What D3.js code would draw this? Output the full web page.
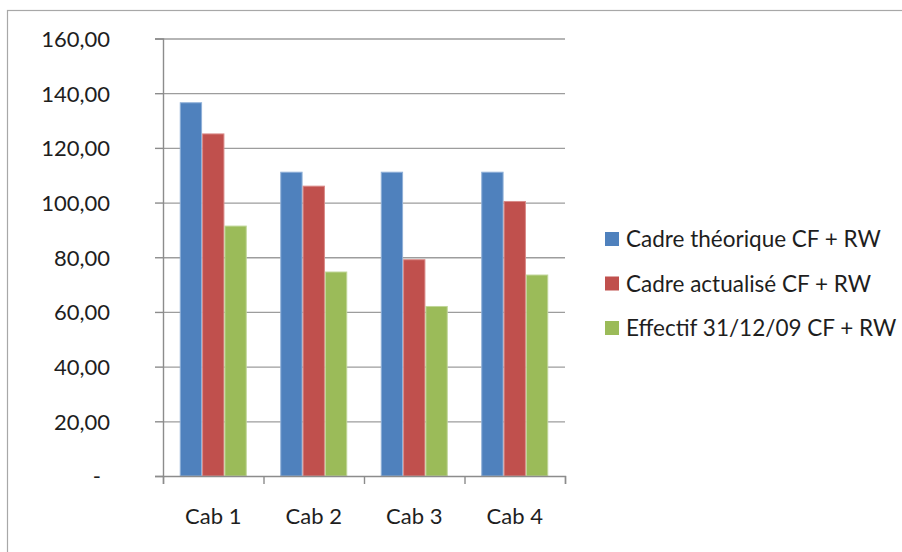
<!DOCTYPE html>
<html>
<head>
<meta charset="utf-8">
<script src="https://cdn.jsdelivr.net/npm/d3@7/dist/d3.min.js"></script>
<style>
  html, body { margin: 0; padding: 0; background: #fff; }
  svg { display: block; }
  text { font-family: Lato, "Open Sans", sans-serif; fill: #1e1e1e; }
</style>
</head>
<body>
<svg id="chart" width="902" height="552"></svg>
<script>
// Staffing per cabinet, three series
const categories = ["Cab 1", "Cab 2", "Cab 3", "Cab 4"];
const seriesNames = ["Cadre théorique CF + RW", "Cadre actualisé CF + RW", "Effectif 31/12/09 CF + RW"];
const cadreTheorique = [136.5, 111.1, 111.1, 111.1];
const cadreActualise = [125.1, 106.0, 79.1, 100.4];
const effectif = [91.4, 74.6, 62.0, 73.5];
const yTicks = [0, 20, 40, 60, 80, 100, 120, 140, 160];
const colors = ["#4F81BD", "#C0504D", "#9BBB59"];
const edgeColors = ["#8fb0d8", "#d98a88", "#c0d698"];

const seriesValues = [cadreTheorique, cadreActualise, effectif];
const rows = categories.map((c, i) => ({
  cat: c,
  vals: seriesValues.map((s, k) => ({ key: k, value: s[i] }))
}));

const svg = d3.select("#chart");

// outer chart frame
svg.append("rect")
  .attr("x", 7.5).attr("y", 10.5)
  .attr("width", 920).attr("height", 560)
  .attr("fill", "none").attr("stroke", "#a8a8a8").attr("stroke-width", 1.2);

const plot = { left: 163, right: 565, top: 38.5, bottom: 476 };

const x = d3.scaleBand()
  .domain(categories)
  .range([plot.left, plot.right])
  .paddingInner(1 / 3)
  .paddingOuter(1 / 6);

const xSeries = d3.scaleBand()
  .domain(d3.range(seriesNames.length))
  .range([0, x.bandwidth()])
  .padding(0);

const y = d3.scaleLinear().domain([0, 160]).range([plot.bottom, plot.top]);

// horizontal gridlines
svg.append("g")
  .attr("transform", `translate(${plot.left},0)`)
  .call(d3.axisRight(y).tickValues(yTicks.slice(1)).tickSize(plot.right - plot.left).tickFormat(""))
  .call(g => g.select(".domain").remove())
  .call(g => g.selectAll("line").attr("stroke", "#9d9d9d").attr("stroke-width", 1.3));

// bars
const groups = svg.append("g").selectAll("g")
  .data(rows)
  .join("g")
  .attr("transform", d => `translate(${x(d.cat)},0)`);

groups.selectAll("rect")
  .data(d => d.vals)
  .join("rect")
  .attr("x", d => xSeries(d.key) + 0.5)
  .attr("y", d => y(d.value))
  .attr("width", xSeries.bandwidth() - 1)
  .attr("height", d => y(0) - y(d.value))
  .attr("fill", d => colors[d.key])
  .attr("stroke", d => edgeColors[d.key])
  .attr("stroke-width", 1);

// y axis
const fmt = v => v === 0 ? "-" : d3.format(".2f")(v).replace(".", ",");
const yAxis = svg.append("g")
  .attr("transform", `translate(${plot.left},0)`)
  .call(d3.axisLeft(y).tickValues(yTicks).tickSize(8).tickPadding(45).tickFormat(fmt));
yAxis.select(".domain").attr("stroke", "#8c8c8c").attr("stroke-width", 1.4);
yAxis.selectAll(".tick line").attr("stroke", "#8c8c8c").attr("stroke-width", 1.4);
yAxis.selectAll(".tick text")
  .style("font-size", "22px")
  .attr("fill", "#1e1e1e")
  .attr("dy", "0.36em")
  .filter(d => d === 0)
  .attr("x", -62);

// x axis: tick marks at the category boundaries
const xEdges = d3.scaleLinear().domain([0, categories.length]).range([plot.left, plot.right]);
const xAxisTicks = svg.append("g")
  .attr("transform", `translate(0,${plot.bottom})`)
  .call(d3.axisBottom(xEdges).tickValues(d3.range(categories.length + 1)).tickSize(8).tickFormat(""));
xAxisTicks.select(".domain").attr("stroke", "#8c8c8c").attr("stroke-width", 1.4);
xAxisTicks.selectAll(".tick line").attr("stroke", "#8c8c8c").attr("stroke-width", 1.4);

// x axis category labels
const xAxisLabels = svg.append("g")
  .attr("transform", `translate(0,${plot.bottom})`)
  .call(d3.axisBottom(x).tickSize(0).tickPadding(32));
xAxisLabels.select(".domain").remove();
xAxisLabels.selectAll(".tick text").style("font-size", "22px").attr("fill", "#1e1e1e");

// legend
const legend = svg.append("g").attr("transform", "translate(605,0)");
const legendRows = legend.selectAll("g")
  .data(seriesNames)
  .join("g")
  .attr("transform", (d, i) => `translate(0,${239 + i * 44.5})`);
legendRows.append("rect")
  .attr("x", 0).attr("y", -7)
  .attr("width", 14).attr("height", 14)
  .attr("fill", (d, i) => colors[i]);
legendRows.append("text")
  .attr("x", 21)
  .attr("dy", "0.36em")
  .style("font-size", "22.5px")
  .text(d => d);
</script>
</body>
</html>
